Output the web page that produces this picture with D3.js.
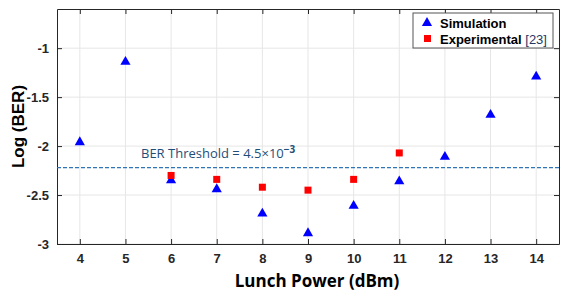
<!DOCTYPE html>
<html>
<head>
<meta charset="utf-8">
<script src="https://d3js.org/d3.v7.min.js"></script>
<style>
  body { margin: 0; background: #fff; }
  svg { font-family: "Liberation Sans", Arial, sans-serif; }
</style>
</head>
<body>
<svg width="573" height="297"></svg>
<script>
// data
var powers = [4, 5, 6, 7, 8, 9, 10, 11, 12, 13, 14];
var simulation = [-1.95, -1.13, -2.34, -2.43, -2.68, -2.88, -2.6, -2.35, -2.1, -1.67, -1.28];
var expPowers = [6, 7, 8, 9, 10, 11];
var experimental = [-2.3, -2.34, -2.42, -2.45, -2.34, -2.07];
var threshold = -2.22;
var yTicks = [-1, -1.5, -2, -2.5, -3];

var svg = d3.select("svg");
var plotL = 57, plotR = 559, plotT = 9, plotB = 244;

var x = d3.scaleLinear().domain([3.5, 14.5]).range([plotL, plotR]);
var y = d3.scaleLinear().domain([-3, -0.6]).range([plotB, plotT]);

// grid
svg.append("g").selectAll("line").data(powers).enter().append("line")
  .attr("x1", d => x(d)).attr("x2", d => x(d))
  .attr("y1", plotT).attr("y2", plotB)
  .attr("stroke", "#e6e6e6");
svg.append("g").selectAll("line").data(yTicks).enter().append("line")
  .attr("x1", plotL).attr("x2", plotR)
  .attr("y1", d => y(d)).attr("y2", d => y(d))
  .attr("stroke", "#e6e6e6");

// axes
svg.append("g").attr("transform", "translate(0," + plotB + ")")
  .call(d3.axisBottom(x).tickValues(powers).tickSizeInner(-5).tickSizeOuter(0).tickPadding(10));
svg.append("g").attr("transform", "translate(" + plotL + ",0)")
  .call(d3.axisLeft(y).tickValues(yTicks).tickSizeInner(-5).tickSizeOuter(0).tickPadding(8)
    .tickFormat(d => String(d)));
svg.append("g").attr("transform", "translate(0," + plotT + ")")
  .call(d3.axisTop(x).tickValues(powers).tickSizeInner(-5).tickSizeOuter(0).tickFormat(""));
svg.append("g").attr("transform", "translate(" + plotR + ",0)")
  .call(d3.axisRight(y).tickValues(yTicks).tickSizeInner(-5).tickSizeOuter(0).tickFormat(""));

svg.selectAll(".domain").attr("stroke", "#262626");
svg.selectAll(".tick line").attr("stroke", "#262626");
svg.selectAll(".tick text").attr("fill", "#262626")
  .style("font-size", "13px").style("font-weight", "bold");

// threshold
svg.append("line")
  .attr("x1", plotL).attr("x2", plotR)
  .attr("y1", y(threshold)).attr("y2", y(threshold))
  .attr("stroke", "#2e75b6").attr("stroke-width", 1.2)
  .attr("stroke-dasharray", "4,2");

var th = svg.append("text").attr("x", 141).attr("y", 158)
  .attr("fill", "#1f4e79").style("font-size", "13px")
  .style("font-family", "'Open Sans', sans-serif");
th.append("tspan").text("BER Threshold = 4.5\u00d710");
th.append("tspan").attr("dy", -5).style("font-size", "10px").style("font-weight", "bold").text("\u22123");

// markers
var tri = d3.symbol().type(d3.symbolTriangle).size(45);
svg.append("g").selectAll("path").data(simulation).enter().append("path")
  .attr("d", tri)
  .attr("transform", (d, i) => "translate(" + x(powers[i]) + "," + (y(d) + 1) + ")")
  .attr("fill", "#0000ff");

svg.append("g").selectAll("rect").data(experimental).enter().append("rect")
  .attr("x", (d, i) => x(expPowers[i]) - 3.5)
  .attr("y", d => y(d) - 3.5)
  .attr("width", 7).attr("height", 7)
  .attr("fill", "#ff0000");

// legend
var lg = svg.append("g");
lg.append("rect").attr("x", 413).attr("y", 13).attr("width", 140).attr("height", 35)
  .attr("fill", "#fff").attr("stroke", "#555").attr("stroke-width", 1);
lg.append("path").attr("d", tri).attr("transform", "translate(427,23)").attr("fill", "#0000ff");
lg.append("rect").attr("x", 424).attr("y", 35).attr("width", 7).attr("height", 7).attr("fill", "#ff0000");
lg.append("text").attr("x", 440).attr("y", 28).style("font-size", "13px").style("font-weight", "bold")
  .text("Simulation");
var et = lg.append("text").attr("x", 440).attr("y", 44).style("font-size", "13px").style("font-weight", "bold");
et.append("tspan").text("Experimental ");
et.append("tspan").attr("fill", "#1f3864").style("font-weight", "normal").text("[23]");

// axis labels
svg.append("text").attr("x", 317).attr("y", 287).attr("text-anchor", "middle")
  .style("font-size", "17px").style("font-weight", "bold")
  .style("font-family", "'Open Sans', sans-serif")
  .text("Lunch Power (dBm)");
svg.append("text").attr("transform", "translate(24," + ((plotT + plotB) / 2) + ") rotate(-90)")
  .attr("text-anchor", "middle")
  .style("font-size", "17px").style("font-weight", "bold")
  .text("Log (BER)");
</script>
</body>
</html>
